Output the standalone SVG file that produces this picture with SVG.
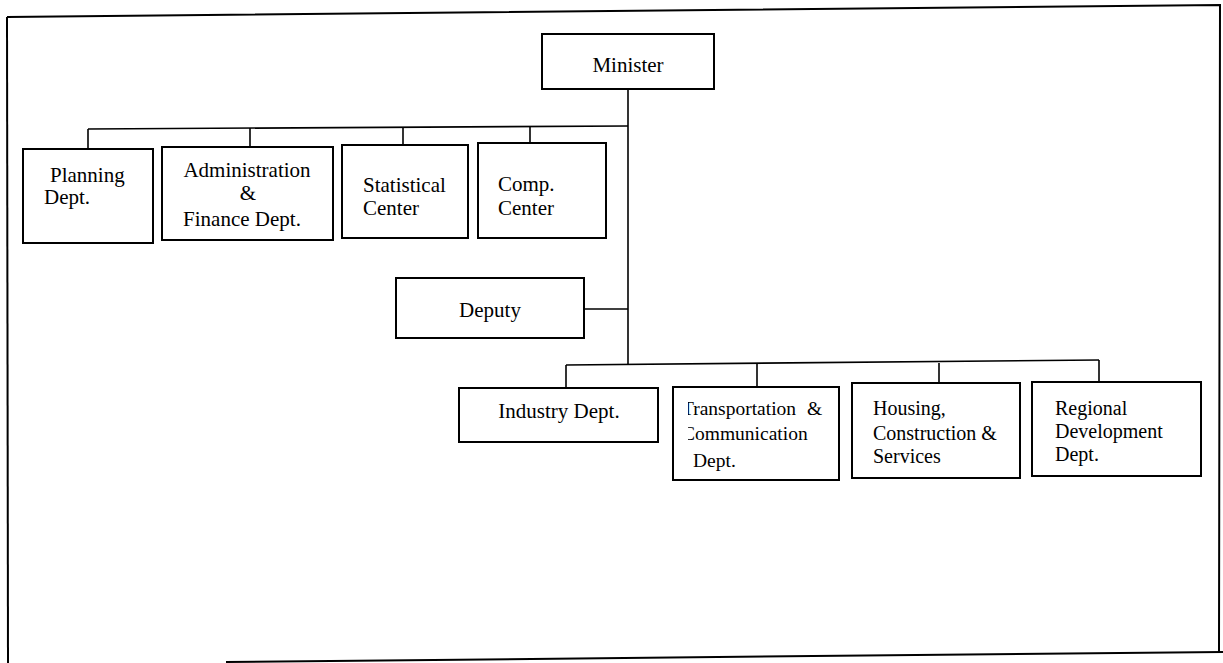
<svg xmlns="http://www.w3.org/2000/svg" width="1223" height="663" viewBox="0 0 1223 663">
  <style>
    .box { fill: #ffffff; stroke: #000000; stroke-width: 2; }
    .wire { fill: none; stroke: #000000; stroke-width: 1.6; }
    .frame { fill: none; stroke: #000000; stroke-width: 2; }
    text { font-family: "Liberation Serif", "Times New Roman", serif; font-size: 21px; fill: #000000; }
    .mid { text-anchor: middle; }
    .small { font-size: 19.5px; }
    .med { font-size: 20px; }
  </style>
  <defs>
    <clipPath id="transport-clip">
      <rect x="688" y="388" width="150" height="91"/>
    </clipPath>
  </defs>
  <rect width="1223" height="663" fill="#ffffff"/>

  <!-- page frame -->
  <g id="frame">
    <path class="frame" d="M7,17 L1220,5 L1219,653"/>
    <path class="frame" d="M7,17 L8,663"/>
    <path class="frame" d="M226,662 L1223,652"/>
  </g>

  <!-- reporting lines -->
  <g id="connectors">
    <path class="wire" d="M628,89 L628,364"/>
    <path class="wire" d="M88,129 L628,126"/>
    <path class="wire" d="M88,129 L88,149"/>
    <path class="wire" d="M250,128 L250,147"/>
    <path class="wire" d="M403,127 L403,145"/>
    <path class="wire" d="M530,126 L530,143"/>
    <path class="wire" d="M584,309 L628,309"/>
    <path class="wire" d="M566,365 L1099,360"/>
    <path class="wire" d="M566,365 L566,388"/>
    <path class="wire" d="M757,364 L757,387"/>
    <path class="wire" d="M939,363 L939,383"/>
    <path class="wire" d="M1099,360 L1099,382"/>
  </g>

  <g id="minister">
    <rect class="box" x="542" y="34" width="172" height="55"/>
    <text class="mid" x="628" y="72">Minister</text>
  </g>

  <g id="planning">
    <rect class="box" x="23" y="149" width="130" height="94"/>
    <text x="50" y="182">Planning</text>
    <text x="44" y="204">Dept.</text>
  </g>

  <g id="admin-finance">
    <rect class="box" x="162" y="147" width="171" height="93"/>
    <text class="mid" x="247" y="177">Administration</text>
    <text class="mid" x="248" y="200">&amp;</text>
    <text class="mid" x="242" y="226">Finance Dept.</text>
  </g>

  <g id="statistical">
    <rect class="box" x="342" y="145" width="126" height="93"/>
    <text x="363" y="192">Statistical</text>
    <text x="363" y="215">Center</text>
  </g>

  <g id="comp-center">
    <rect class="box" x="478" y="143" width="128" height="95"/>
    <text x="498" y="191">Comp.</text>
    <text x="498" y="215">Center</text>
  </g>

  <g id="deputy">
    <rect class="box" x="396" y="278" width="188" height="60"/>
    <text class="mid" x="490" y="317">Deputy</text>
  </g>

  <g id="industry">
    <rect class="box" x="459" y="388" width="199" height="54"/>
    <text class="mid" x="559" y="418">Industry Dept.</text>
  </g>

  <g id="transport">
    <rect class="box" x="673" y="387" width="166" height="93"/>
    <g clip-path="url(#transport-clip)">
      <text class="small" x="682" y="415">Transportation</text>
      <text class="small" x="682" y="440">Communication</text>
    </g>
    <text class="small" x="807" y="415">&amp;</text>
    <text class="small" x="693" y="467">Dept.</text>
  </g>

  <g id="housing">
    <rect class="box" x="852" y="383" width="168" height="95"/>
    <text class="med" x="873" y="415">Housing,</text>
    <text class="med" x="873" y="440">Construction &amp;</text>
    <text class="med" x="873" y="463">Services</text>
  </g>

  <g id="regional">
    <rect class="box" x="1032" y="382" width="169" height="94"/>
    <text class="med" x="1055" y="415">Regional</text>
    <text class="med" x="1055" y="438">Development</text>
    <text class="med" x="1055" y="461">Dept.</text>
  </g>
</svg>
